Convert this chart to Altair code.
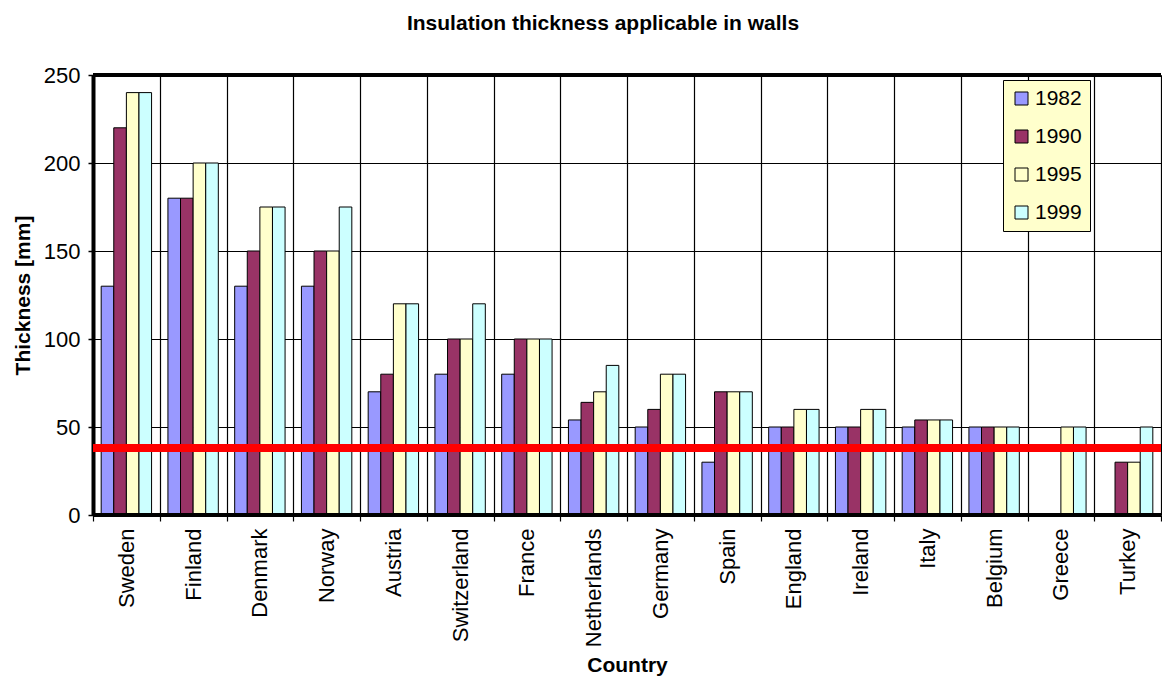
import altair as alt
import pandas as pd

# Insulation thickness [mm] required in external walls, by country and year
countries = ["Sweden", "Finland", "Denmark", "Norway", "Austria", "Switzerland",
             "France", "Netherlands", "Germany", "Spain", "England", "Ireland",
             "Italy", "Belgium", "Greece", "Turkey"]
years = ["1982", "1990", "1995", "1999"]

t1982 = [130, 180, 130, 130, 70, 80, 80, 54, 50, 30, 50, 50, 50, 50, 0, 0]
t1990 = [220, 180, 150, 150, 80, 100, 100, 64, 60, 70, 50, 50, 54, 50, 0, 30]
t1995 = [240, 200, 175, 150, 120, 100, 100, 70, 80, 70, 60, 60, 54, 50, 50, 30]
t1999 = [240, 200, 175, 175, 120, 120, 100, 85, 80, 70, 60, 60, 54, 50, 50, 50]

reference_level = [38]

year_colors = ["#9999FF", "#993366", "#FFFFCC", "#CCFFFF"]

series = dict(zip(years, [t1982, t1990, t1995, t1999]))
rows = []
for year, vals in series.items():
    for c, v in zip(countries, vals):
        rows.append({"country": c, "year": year, "value": v})
df = pd.DataFrame(rows)

FONT = "Liberation Sans"

bars = alt.Chart(df).mark_bar(stroke="black", strokeWidth=1).encode(
    x=alt.X(
        "country:N",
        sort=countries,
        scale=alt.Scale(paddingInner=0, paddingOuter=0),
        axis=alt.Axis(
            title="Country",
            labelAngle=-90,
            tickBand="extent",
            grid=True,
            gridColor="black",
            gridWidth=1.2,
            domain=False,
            ticks=True,
            tickColor="black",
            tickSize=6,
            tickWidth=1.2,
            labelFontSize=22,
            labelPadding=7,
            labelColor="black",
            titleFontSize=21,
            titleFontWeight="bold",
            titleColor="black",
            titlePadding=8,
        ),
    ),
    xOffset=alt.XOffset(
        "year:N", sort=years, scale=alt.Scale(paddingOuter=0.65, paddingInner=0)
    ),
    y=alt.Y(
        "value:Q",
        scale=alt.Scale(domain=[0, 250], nice=False),
        axis=alt.Axis(
            values=[0, 50, 100, 150, 200, 250],
            title="Thickness [mm]",
            grid=True,
            gridColor="black",
            gridWidth=1.2,
            domainColor="black",
            domainWidth=4,
            tickColor="black",
            tickSize=5,
            tickWidth=1.5,
            labelFontSize=22,
            labelPadding=8,
            labelColor="black",
            titleFontSize=21,
            titleFontWeight="bold",
            titleColor="black",
            titlePadding=10,
        ),
    ),
    color=alt.Color(
        "year:N",
        sort=years,
        scale=alt.Scale(domain=years, range=year_colors),
        legend=alt.Legend(
            title=None,
            orient="none",
            legendX=910,
            legendY=5,
            fillColor="#FFFFCC",
            strokeColor="black",
            padding=8,
            symbolType="square",
            symbolSize=169,
            symbolStrokeColor="black",
            symbolStrokeWidth=1,
            labelFontSize=21,
            labelColor="black",
            labelOffset=3,
            rowPadding=16,
        ),
    ),
)

red_line = alt.Chart(pd.DataFrame({"level": reference_level})).mark_rule(
    color="#FF0000", strokeWidth=8
).encode(y="level:Q")

top_border = alt.Chart().mark_rule(color="black", strokeWidth=4).encode(
    y=alt.datum(250)
)
floor = alt.Chart().mark_rule(color="black", strokeWidth=4).encode(
    y=alt.datum(0)
)

chart = (
    alt.layer(bars, red_line, floor, top_border)
    .properties(
        width=1068,
        height=440,
        title=alt.TitleParams(
            "Insulation thickness applicable in walls",
            fontSize=21,
            fontWeight="bold",
            font=FONT,
            color="black",
            anchor="middle",
            dx=-24,
            offset=30,
        ),
        autosize=alt.AutoSizeParams(type="none"),
        padding={"left": 93, "top": 75, "right": 1, "bottom": 165},
        background="white",
    )
    .configure_view(fill="#C0C0C0", strokeWidth=0)
    .configure(font=FONT)
)

chart.save("out.html", embed_options={"renderer": "svg", "actions": False})
